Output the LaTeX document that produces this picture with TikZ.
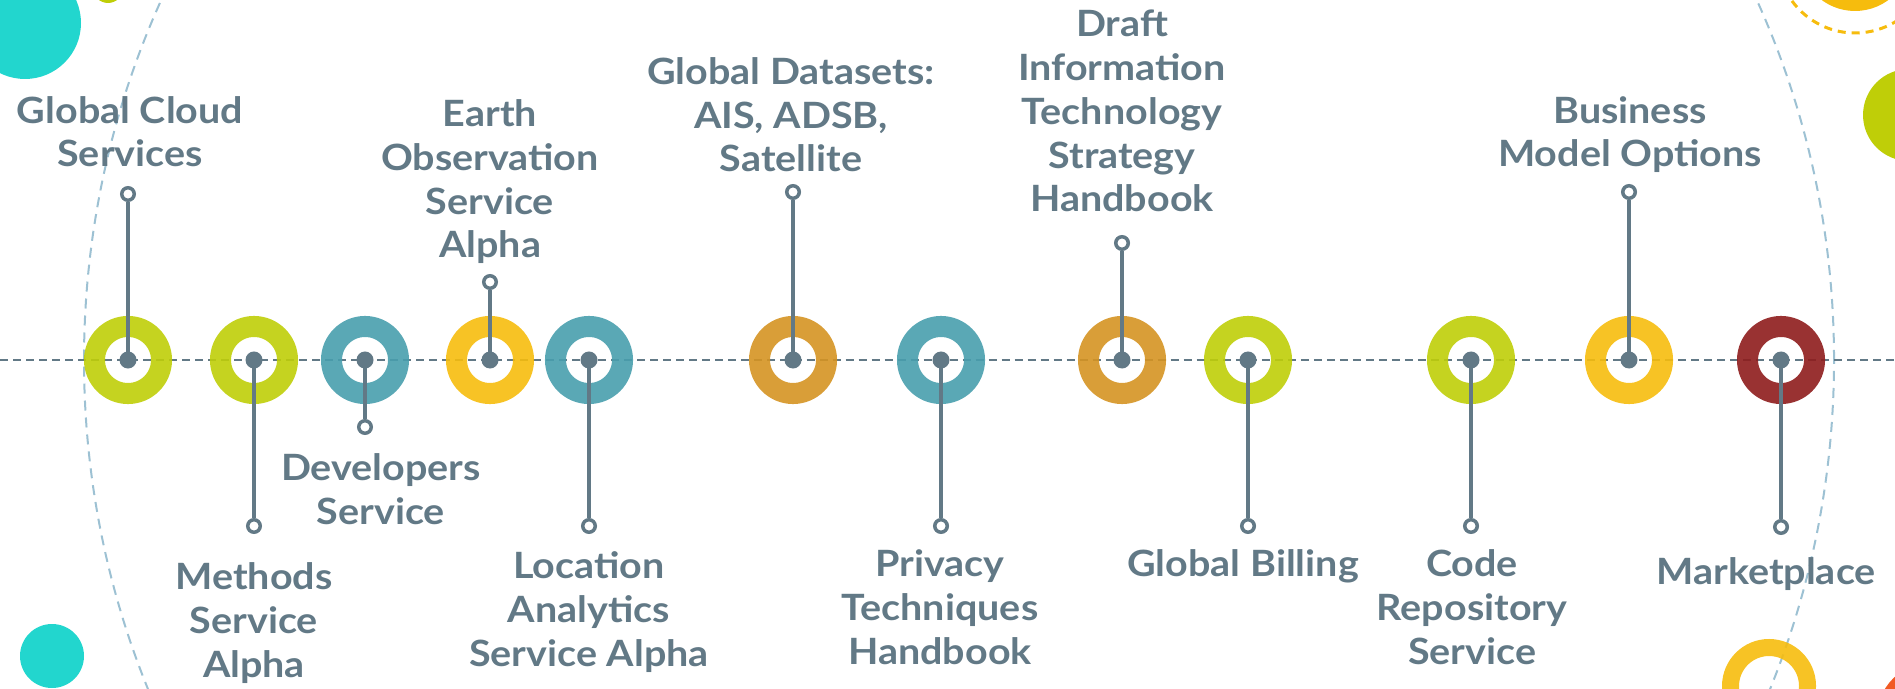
\documentclass[tikz,border=0pt]{standalone}
\usepackage{fontspec}
\setmainfont[FakeStretch=1.09]{Lato}
\definecolor{slate}{HTML}{627986}
\definecolor{mlime}{HTML}{BFCE08}
\definecolor{mteal}{HTML}{489EAD}
\definecolor{myellow}{HTML}{F6BC0D}
\definecolor{morange}{HTML}{D59322}
\definecolor{mred}{HTML}{8E1C1C}
\definecolor{mcyan}{HTML}{22D6CE}
\definecolor{mflame}{HTML}{F15A24}
\definecolor{arcblue}{HTML}{9DC1D3}
\begin{document}
\begin{tikzpicture}[x=0.01cm,y=0.01cm,
		ring/.style={circle,draw=#1,line width=0.21cm,minimum size=0.67cm,inner sep=0pt,draw opacity=0.9},
		hub/.style={circle,fill=slate,minimum size=0.17cm,inner sep=0pt},
		tip/.style={circle,draw=slate,fill=white,line width=0.035cm,minimum size=0.125cm,inner sep=0pt},
		stem/.style={draw=slate,line width=0.04cm},
		lbl/.style={text=slate,align=center,anchor=base,inner sep=0pt,font=\fontsize{10.3}{12.5}\selectfont\bfseries}]
		\useasboundingbox (0,-328) rectangle (1895,360);
		\clip (0,-328) rectangle (1895,360);
		% background
		\draw[arcblue,line width=0.02cm,dash pattern=on 0.1cm off 0.07cm] (959,0) circle (875);
		\fill[mcyan] (25,337) circle (56);
		\fill[mlime] (108,372) circle (15);
		\fill[mcyan] (52,-296) circle (32);
		\fill[myellow] (1855,405) circle (56);
		\draw[myellow,line width=0.03cm,dash pattern=on 0.08cm off 0.06cm] (1855,405) circle (78);
		\fill[mlime] (1909,245) circle (46);
		\draw[myellow,line width=0.17cm,draw opacity=0.9] (1769,-326) circle (38.5);
		\fill[mflame] (1935,-360) circle (59);
		\coordinate (west) at (0,0);
		\coordinate (east) at (1895,0);
		\draw[slate,line width=0.02cm,dash pattern=on 0.08cm off 0.05cm] (west) -- (east);
		% rings
		\node[ring=mlime] (r1) at (128,0) {};
		\node[ring=mlime] (r2) at (254,0) {};
		\node[ring=mteal] (r3) at (365,0) {};
		\node[ring=myellow] (r4) at (490,0) {};
		\node[ring=mteal] (r5) at (589,0) {};
		\node[ring=morange] (r6) at (793,0) {};
		\node[ring=mteal] (r7) at (941,0) {};
		\node[ring=morange] (r8) at (1122,0) {};
		\node[ring=mlime] (r9) at (1248,0) {};
		\node[ring=mlime] (r10) at (1471,0) {};
		\node[ring=myellow] (r11) at (1629,0) {};
		\node[ring=mred] (r12) at (1781,0) {};
		% pins
		\node[tip] (t1) at (128,166) {};
		\node[tip] (t2) at (254,-166) {};
		\node[tip] (t3) at (365,-67) {};
		\node[tip] (t4) at (490,78) {};
		\node[tip] (t5) at (589,-166) {};
		\node[tip] (t6) at (793,168) {};
		\node[tip] (t7) at (941,-166) {};
		\node[tip] (t8) at (1122,117) {};
		\node[tip] (t9) at (1248,-166) {};
		\node[tip] (t10) at (1471,-166) {};
		\node[tip] (t11) at (1629,168) {};
		\node[tip] (t12) at (1781,-167) {};
		\draw[stem] (r1.center) -- (t1) (r2.center) -- (t2) (r3.center) -- (t3) (r4.center) -- (t4);
		\draw[stem] (r5.center) -- (t5) (r6.center) -- (t6) (r7.center) -- (t7) (r8.center) -- (t8);
		\draw[stem] (r9.center) -- (t9) (r10.center) -- (t10) (r11.center) -- (t11) (r12.center) -- (t12);
		\node[hub] (h1) at (r1) {};
		\node[hub] (h2) at (r2) {};
		\node[hub] (h3) at (r3) {};
		\node[hub] (h4) at (r4) {};
		\node[hub] (h5) at (r5) {};
		\node[hub] (h6) at (r6) {};
		\node[hub] (h7) at (r7) {};
		\node[hub] (h8) at (r8) {};
		\node[hub] (h9) at (r9) {};
		\node[hub] (h10) at (r10) {};
		\node[hub] (h11) at (r11) {};
		\node[hub] (h12) at (r12) {};
		% labels (anchored on the last line)
		\node[lbl] (l1) at (130,193) {Global Cloud\\Services};
		\node[lbl] (l2) at (254,-317) {Methods\\Service\\Alpha};
		\node[lbl] (l3) at (381,-164) {Developers\\Service};
		\node[lbl] (l4) at (490,102) {Earth\\Observation\\Service\\Alpha};
		\node[lbl] (l5) at (589,-306) {Location\\Analytics\\Service Alpha};
		\node[lbl] (l6) at (791,188) {Global Datasets:\\AIS, ADSB,\\Satellite};
		\node[lbl] (l7) at (940,-304) {Privacy\\Techniques\\Handbook};
		\node[lbl] (l8) at (1122,148) {Draft\\Information\\Technology\\Strategy\\Handbook};
		\node[lbl] (l9) at (1243,-216) {Global Billing};
		\node[lbl] (l10) at (1472,-304) {Code\\Repository\\Service};
		\node[lbl] (l11) at (1630,193) {Business\\Model Options};
		\node[lbl] (l12) at (1766,-224) {Marketplace};
	\end{tikzpicture}
\end{document}
